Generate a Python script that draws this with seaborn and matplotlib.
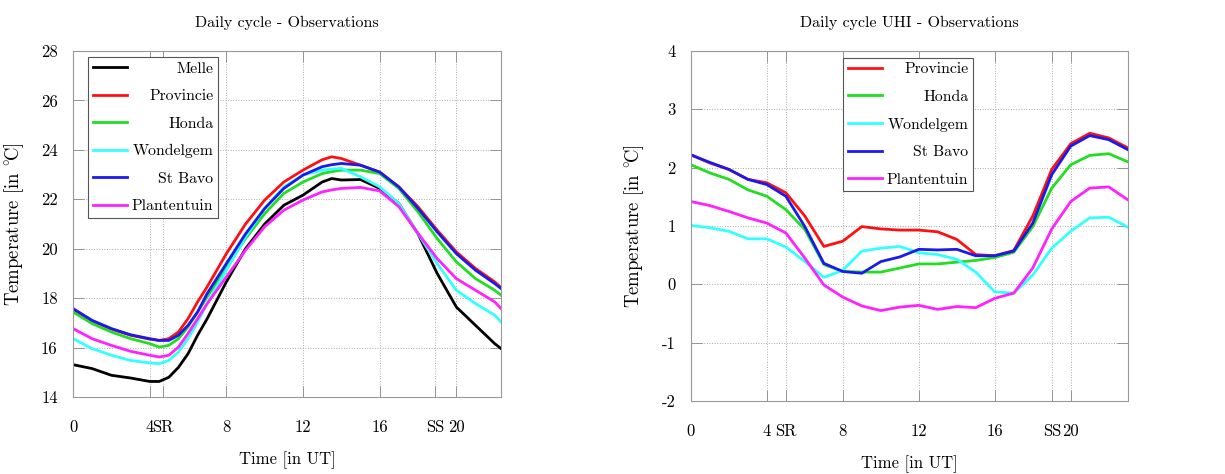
import matplotlib
matplotlib.use('Agg')
import matplotlib.pyplot as plt
from matplotlib.lines import Line2D
import pandas as pd
import seaborn as sns

# left panel: daily cycle of temperature
hours_obs = [0, 1, 2, 3, 4, 4.5, 5, 5.5, 6, 6.5, 7, 8, 9, 10, 11, 12, 13, 13.5,
             14, 15, 16, 17, 18, 19, 20, 21, 22, 22.33]
melle = [15.31, 15.15, 14.88, 14.77, 14.63, 14.63, 14.8, 15.2, 15.75, 16.5, 17.17, 18.66,
         20.0, 21.0, 21.76, 22.17, 22.7, 22.84, 22.78, 22.8, 22.44, 21.83, 20.6, 19.0,
         17.64, 16.9, 16.16, 15.96]
provincie = [17.54, 17.08, 16.75, 16.5, 16.34, 16.29, 16.36, 16.63, 17.17, 17.85, 18.46,
             19.8, 21.0, 21.97, 22.7, 23.18, 23.6, 23.72, 23.65, 23.38, 23.1, 22.5, 21.7,
             20.75, 19.87, 19.2, 18.66, 18.43]
honda = [17.44, 16.97, 16.63, 16.36, 16.16, 16.02, 16.09, 16.36, 16.83, 17.44, 18.05,
         19.27, 20.41, 21.42, 22.24, 22.7, 23.04, 23.12, 23.18, 23.18, 23.04, 22.44,
         21.49, 20.41, 19.47, 18.79, 18.32, 18.12]
wondelgem = [16.36, 15.96, 15.69, 15.48, 15.38, 15.35, 15.48, 15.82, 16.36, 17.04, 17.78,
             19.13, 20.48, 21.63, 22.5, 22.98, 23.18, 23.22, 23.25, 22.91, 22.5, 21.83,
             20.61, 19.4, 18.32, 17.78, 17.31, 17.04]
stbavo = [17.58, 17.1, 16.77, 16.52, 16.36, 16.29, 16.29, 16.5, 16.9, 17.44, 18.19, 19.4,
          20.6, 21.63, 22.44, 22.98, 23.32, 23.4, 23.45, 23.38, 23.1, 22.5, 21.63, 20.68,
          19.8, 19.13, 18.59, 18.39]
plantentuin = [16.77, 16.36, 16.09, 15.85, 15.69, 15.62, 15.69, 16.02, 16.57, 17.17,
               17.78, 18.86, 19.94, 20.89, 21.56, 21.97, 22.3, 22.38, 22.44, 22.48, 22.34,
               21.7, 20.62, 19.6, 18.79, 18.32, 17.85, 17.58]

# right panel: daily cycle of the urban heat island (hourly)
hours_uhi = list(range(24))
uhi_provincie = [2.22, 2.08, 1.97, 1.80, 1.74, 1.57, 1.17, 0.65, 0.74, 0.99, 0.95, 0.93,
                 0.93, 0.90, 0.77, 0.51, 0.49, 0.58, 1.17, 1.97, 2.41, 2.59, 2.51, 2.34]
uhi_honda = [2.05, 1.91, 1.80, 1.62, 1.51, 1.28, 0.94, 0.34, 0.22, 0.21, 0.21, 0.28,
             0.35, 0.35, 0.38, 0.41, 0.46, 0.55, 0.99, 1.65, 2.05, 2.21, 2.24, 2.10]
uhi_wondelgem = [1.01, 0.97, 0.91, 0.78, 0.78, 0.64, 0.39, 0.12, 0.24, 0.57, 0.62, 0.65,
                 0.54, 0.51, 0.43, 0.21, -0.13, -0.15, 0.16, 0.62, 0.91, 1.14, 1.15, 0.98]
uhi_stbavo = [2.22, 2.09, 1.97, 1.80, 1.71, 1.51, 0.99, 0.36, 0.22, 0.19, 0.39, 0.47,
              0.60, 0.59, 0.60, 0.49, 0.49, 0.57, 1.05, 1.88, 2.37, 2.55, 2.48, 2.31]
uhi_plantentuin = [1.42, 1.35, 1.25, 1.14, 1.05, 0.88, 0.45, -0.01, -0.22, -0.37, -0.45,
                   -0.39, -0.36, -0.43, -0.38, -0.40, -0.24, -0.15, 0.28, 0.95, 1.42, 1.65,
                   1.67, 1.45]

stations = ['Melle', 'Provincie', 'Honda', 'Wondelgem', 'St Bavo', 'Plantentuin']
colors = {'Melle': '#000000', 'Provincie': '#ff1010', 'Honda': '#22dd22',
          'Wondelgem': '#33ffff', 'St Bavo': '#1a1aee', 'Plantentuin': '#ff22ff'}

obs_df = pd.concat([pd.DataFrame({'hour': hours_obs, 'temp': v, 'station': s})
                    for s, v in zip(stations, [melle, provincie, honda, wondelgem,
                                               stbavo, plantentuin])])
uhi_df = pd.concat([pd.DataFrame({'hour': hours_uhi, 'temp': v, 'station': s})
                    for s, v in zip(stations[1:], [uhi_provincie, uhi_honda, uhi_wondelgem,
                                                   uhi_stbavo, uhi_plantentuin])])

plt.rcParams['font.family'] = ['cmr10', 'DejaVu Serif']
plt.rcParams['mathtext.fontset'] = 'cm'
plt.rcParams['axes.formatter.use_mathtext'] = True
plt.rcParams['axes.unicode_minus'] = False
plt.rcParams['font.size'] = 11.5

fig = plt.figure(figsize=(12.25, 4.74), dpi=100)
ax1 = fig.add_axes([0.0596, 0.1624, 0.3494, 0.73])
ax2 = fig.add_axes([0.564, 0.154, 0.3566, 0.7384])

ylabel = r'Temperature [in $^{\circ}\!\mathrm{C}$]'


def style_axes(ax, xlim, ylim, yticks, sr, ss):
    ax.set_xlim(*xlim)
    ax.set_ylim(*ylim)
    ax.set_xticks([0, 4, sr, 8, 12, 16, ss, 20])
    ax.set_xticklabels(['0', '4', 'SR', '8', '12', '16', 'SS', '20'])
    ax.set_yticks(yticks)
    ax.set_yticklabels([str(v) for v in yticks])
    ax.grid(True, linestyle=':', color='#aaaaaa', linewidth=0.7)
    for sp in ax.spines.values():
        sp.set_color('#999999')
        sp.set_linewidth(0.8)
    ax.tick_params(direction='in', length=8, width=0.6, color='#888888',
                   top=True, right=True, labelsize=12)
    ax.tick_params(axis='x', pad=16)
    ax.tick_params(axis='y', pad=11)
    ax.set_xlabel('Time [in UT]', fontsize=12, labelpad=12)


def legend_right(ax, names, anchor):
    handles = [Line2D([], [], color=colors[n], lw=2) for n in names]
    leg = ax.legend(handles, names, loc='upper left', bbox_to_anchor=anchor,
                    borderaxespad=0, fancybox=False, framealpha=1,
                    edgecolor='#555555', handlelength=2.2, handletextpad=0.3,
                    borderpad=0.3, labelspacing=0.86, fontsize=11.3)
    leg.get_frame().set_linewidth(0.8)
    return leg


sns.lineplot(data=obs_df, x='hour', y='temp', hue='station', hue_order=stations,
             palette=colors, linewidth=2, legend=False, ax=ax1)
style_axes(ax1, (0, 22.33), (14, 28), [14, 16, 18, 20, 22, 24, 26, 28], 4.68, 18.9)
ax1.set_ylabel(ylabel, fontsize=13.5, labelpad=11)
ax1.set_title('Daily cycle - Observations', fontsize=11.5, pad=17)
leg1 = legend_right(ax1, stations, (0.035, 0.983))

sns.lineplot(data=uhi_df, x='hour', y='temp', hue='station', hue_order=stations[1:],
             palette=colors, linewidth=2, legend=False, ax=ax2)
style_axes(ax2, (0, 23), (-2, 4), [-2, -1, 0, 1, 2, 3, 4], 5, 19)
ax2.set_ylabel(ylabel, fontsize=13.5, labelpad=11)
ax2.set_title('Daily cycle UHI - Observations', fontsize=11.5, pad=17)
leg2 = legend_right(ax2, stations[1:], (0.348, 0.981))

# right-align the legend labels like in gnuplot
fig.canvas.draw()
r = fig.canvas.get_renderer()
for leg in (leg1, leg2):
    widths = [t.get_window_extent(r).width for t in leg.get_texts()]
    rows = [row for col in leg._legend_handle_box.get_children()
            for row in col.get_children()]
    for row, w in zip(rows, widths):
        row.sep += (max(widths) - w) * 72 / fig.dpi

fig.savefig('out.png', dpi=100)
